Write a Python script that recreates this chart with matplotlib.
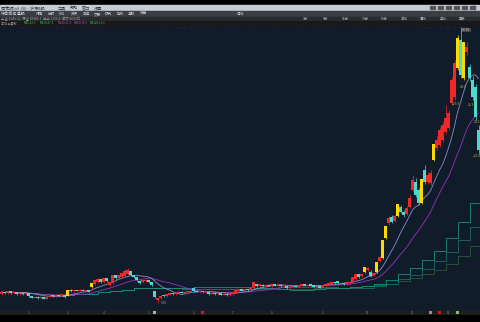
import numpy as np
import pandas as pd
import matplotlib
matplotlib.use('Agg')
import matplotlib.pyplot as plt
from matplotlib.patches import Rectangle

plt.rcParams['font.family'] = ['Noto Sans CJK SC', 'DejaVu Sans']

# daily candles (price units)
opens = [6.6, 6.8, 6.7, 6.9, 6.7, 6.8, 6.6, 6.75, 6.6, 6.7,
         6.4, 6.25, 6.35, 6.2, 6.3, 6.15, 6.35, 6.45, 6.4, 6.5,
         6.45, 6.55, 6.45, 7.0, 6.9, 7.0, 6.95, 7.05, 6.95, 7.0,
         7.3, 7.6, 7.8, 8.1, 7.8, 8.2, 7.5, 7.7, 8.5, 8.2,
         8.3, 8.4, 8.6, 8.9, 8.5, 8.3, 7.95, 7.8, 7.9, 8.0,
         7.8, 6.9, 6.0, 6.2, 6.5, 6.4, 6.55, 6.7, 6.6, 6.7,
         6.85, 6.75, 6.8, 6.85, 7.2, 6.95, 6.8, 6.9, 6.8, 6.85,
         6.65, 6.75, 6.6, 6.7, 6.55, 6.65, 6.5, 6.6, 6.75, 6.9,
         7.1, 6.95, 7.1, 7.0, 7.3, 7.6, 7.4, 7.55, 7.4, 7.55,
         7.4, 7.6, 7.45, 7.55, 7.4, 7.4, 7.2, 7.3, 7.45, 7.35,
         7.45, 7.6, 7.45, 7.6, 7.5, 7.35, 7.4, 7.25, 7.4, 7.55,
         7.6, 7.8, 7.9, 7.6, 7.75, 7.6, 7.7, 7.8, 8.1, 8.6,
         8.4, 8.8, 9.0, 8.8, 8.5, 8.8, 9.9, 10.2, 12.2, 13.7,
         14.3, 13.9, 14.4, 15.3, 14.8, 14.6, 15.3, 17.0, 17.8, 17.0,
         15.7, 19.0, 17.8, 17.7, 20.0, 21.2, 21.5, 22.0, 22.8, 23.2,
         25.7, 26.3, 29.2, 32.0, 28.2, 30.8, 29.3, 28.0, 27.3, 23.0]
closes = [6.8, 6.7, 6.9, 6.7, 6.8, 6.6, 6.75, 6.6, 6.7, 6.4,
          6.25, 6.35, 6.2, 6.3, 6.15, 6.35, 6.45, 6.4, 6.5, 6.45,
          6.6, 6.35, 7.0, 6.9, 7.0, 6.95, 7.05, 6.95, 7.0, 6.85,
          7.7, 8.0, 8.1, 7.8, 8.2, 7.9, 7.8, 8.5, 8.2, 8.5,
          8.7, 8.9, 9.0, 8.5, 8.3, 8.0, 7.7, 8.0, 8.05, 7.8,
          7.5, 6.3, 6.2, 6.4, 6.4, 6.6, 6.7, 6.6, 6.75, 6.85,
          6.75, 6.85, 6.9, 6.95, 6.9, 6.85, 6.9, 6.8, 6.9, 6.6,
          6.75, 6.6, 6.7, 6.55, 6.65, 6.5, 6.65, 6.8, 7.0, 7.1,
          6.95, 7.1, 7.0, 7.2, 7.8, 7.4, 7.6, 7.4, 7.55, 7.45,
          7.6, 7.45, 7.55, 7.4, 7.5, 7.2, 7.35, 7.45, 7.35, 7.5,
          7.6, 7.45, 7.55, 7.45, 7.35, 7.45, 7.25, 7.55, 7.65, 7.75,
          7.8, 7.7, 7.7, 7.75, 7.6, 7.8, 7.85, 8.3, 8.6, 8.3,
          8.6, 9.3, 9.2, 8.4, 8.7, 9.8, 10.3, 12.0, 13.4, 14.2,
          13.8, 14.4, 15.6, 14.8, 14.5, 15.2, 16.2, 18.0, 16.5, 15.7,
          18.1, 17.8, 18.5, 18.7, 21.6, 22.0, 23.0, 23.5, 24.2, 24.7,
          28.0, 29.7, 32.2, 28.5, 31.8, 31.3, 28.2, 26.3, 24.3, 21.0]
highs = [6.85, 6.85, 6.95, 6.95, 6.85, 6.85, 6.8, 6.8, 6.75, 6.75,
         6.45, 6.4, 6.4, 6.35, 6.35, 6.4, 6.5, 6.5, 6.55, 6.55,
         6.65, 6.6, 7.05, 7.1, 7.05, 7.05, 7.1, 7.1, 7.05, 7.05,
         7.75, 8.05, 8.2, 8.15, 8.25, 8.25, 7.85, 8.55, 8.55, 8.55,
         8.75, 9.1, 9.2, 8.95, 8.55, 8.35, 8.0, 8.05, 8.1, 8.05,
         7.85, 6.95, 6.25, 6.45, 6.55, 6.65, 6.75, 6.75, 6.8, 6.9,
         6.9, 6.9, 6.95, 7.0, 7.3, 7.0, 6.95, 6.95, 6.95, 6.9,
         6.8, 6.8, 6.75, 6.75, 6.7, 6.7, 6.7, 6.85, 7.05, 7.15,
         7.15, 7.15, 7.15, 7.25, 7.85, 7.65, 7.65, 7.6, 7.6, 7.6,
         7.65, 7.65, 7.6, 7.6, 7.55, 7.45, 7.4, 7.5, 7.5, 7.55,
         7.65, 7.65, 7.6, 7.65, 7.55, 7.5, 7.45, 7.6, 7.7, 7.8,
         7.85, 7.85, 7.95, 7.8, 7.8, 7.85, 7.9, 8.35, 8.65, 8.65,
         8.65, 9.35, 9.3, 9.0, 8.75, 9.85, 10.4, 12.05, 13.45, 14.4,
         14.5, 14.5, 15.65, 15.5, 15.0, 15.4, 16.6, 18.5, 18.2, 17.2,
         18.15, 19.5, 18.8, 19.0, 21.65, 22.4, 23.3, 23.8, 25.5, 25.0,
         28.3, 30.0, 32.5, 33.3, 31.85, 31.8, 29.6, 28.4, 27.6, 23.5]
lows = [6.55, 6.65, 6.65, 6.65, 6.65, 6.55, 6.55, 6.55, 6.55, 6.35,
        6.2, 6.2, 6.15, 6.15, 6.1, 6.1, 6.3, 6.35, 6.35, 6.4,
        6.4, 6.2, 6.4, 6.85, 6.85, 6.9, 6.9, 6.9, 6.9, 6.8,
        7.25, 7.55, 7.75, 7.75, 7.75, 7.85, 7.4, 7.65, 8.15, 8.15,
        8.25, 8.35, 8.55, 8.45, 8.25, 7.95, 7.65, 7.75, 7.85, 7.75,
        7.4, 6.25, 5.7, 6.15, 6.35, 6.35, 6.5, 6.55, 6.55, 6.65,
        6.7, 6.7, 6.75, 6.8, 6.85, 6.8, 6.75, 6.75, 6.75, 6.55,
        6.6, 6.55, 6.55, 6.5, 6.5, 6.45, 6.45, 6.55, 6.7, 6.85,
        6.9, 6.9, 6.95, 6.95, 7.25, 7.35, 7.35, 7.35, 7.35, 7.4,
        7.35, 7.4, 7.4, 7.35, 7.35, 7.15, 7.15, 7.25, 7.3, 7.3,
        7.4, 7.4, 7.4, 7.4, 7.3, 7.3, 7.2, 7.2, 7.35, 7.5,
        7.55, 7.65, 7.65, 7.55, 7.55, 7.55, 7.65, 7.75, 8.05, 8.25,
        8.35, 8.75, 8.95, 8.35, 8.45, 8.75, 9.85, 10.15, 12.1, 13.5,
        13.7, 13.8, 14.35, 14.7, 14.3, 14.5, 15.2, 16.8, 16.3, 15.5,
        15.6, 17.6, 17.6, 17.5, 19.9, 21.0, 21.3, 21.8, 22.6, 23.0,
        25.5, 26.0, 29.0, 28.2, 28.0, 30.5, 27.9, 26.0, 24.0, 20.6]
limit_up = [22, 30, 121, 125, 127, 128, 132, 140, 144, 152, 154]

event_days = [6, 7, 8, 18, 20, 27, 29, 33, 53, 58, 59, 60, 61, 63, 65, 67, 70,
              74, 78, 83, 92, 100, 104, 106, 111, 118, 120, 121, 126, 127, 128,
              129, 132, 139, 141, 142, 143, 146, 148, 149, 151, 152, 153, 154]
month_days = [9, 22, 34, 49, 64, 77, 90, 107, 122, 137, 149]
month_labels = ['2', '3', '4', '5', '6', '7', '8', '9', '10', '11', '12']
marker_days = [51, 67, 143, 146, 152]
marker_colors = ['#7fd07f', '#c02020', '#c08080', '#c02020', '#80c070']

note_pos = [(153.5, 29.9), (153.8, 27.3), (151.6, 25.6), (156.6, 25.5), (158.4, 23.8), (158.6, 20.4)]
note_text = ['+31.8', '28.0', '+25.5', '26.3', '24.3', '+21.0']

info_x = [1, 24, 40, 58, 74, 90]
info_text = ['日线 前复权', 'MA5:29.3', 'MA10:27.2', 'MA20:21.4', 'MA60:15.0', 'MA120:11.6']
info_color = ['#c9a0a0', '#40c040', '#40c040', '#c040c0', '#c040c0', '#40c040']

W, H = 480, 322
fig = plt.figure(figsize=(4.8, 3.22), dpi=100, facecolor='black')


def fx(x):
    return x / W


def fy(y):
    return 1 - y / H


def band(y0, y1, color, x0=0, x1=W):
    fig.patches.append(Rectangle((fx(x0), fy(y1)), (x1 - x0) / W, (y1 - y0) / H,
                                 transform=fig.transFigure, color=color, zorder=0))


# window chrome
band(5, 11, '#c4cbd3')
band(11, 17, '#3a3d42')
band(17, 21, '#2a2c30')
band(21, 26, '#17191d')

fig.text(fx(1), fy(8), '同花顺(v9.30) - 沪深A股', fontsize=3, color='#333', va='center')
for x, t in zip([58, 70, 82, 94], ['工具', '帮助', '窗口', '设置']):
    fig.text(fx(x), fy(8), t, fontsize=3, color='#333', va='center')
fig.text(fx(1), fy(14), '综合排名选股', fontsize=3, color='#ddd', va='center')
for k, t in enumerate(['行情', '分时', 'K线', '资讯', '自选', '交易', '研究', '模拟', '选股', '资金']):
    fig.text(fx(36 + k * 11.5), fy(14), t, fontsize=2.6, color='#cfcfcf', va='center')
fig.text(fx(240), fy(14), '日线', fontsize=2.6, color='#ddd', va='center', ha='center')
for k in range(6):
    fig.patches.append(Rectangle((fx(430 + k * 8), fy(9)), 5 / W, 3 / H,
                                 transform=fig.transFigure, color='#555', zorder=1))
fig.text(fx(1), fy(19), '上证 3245.12  深证 10986.3  创业 2156.8  成交 8632亿', fontsize=2.4, color='#aaa', va='center')
for k, t in enumerate(['1分', '5分', '15分', '30分', '60分', '日线', '周线', '月线', '更多']):
    fig.text(fx(303 + k * 19.5), fy(19), t, fontsize=2.4, color='#bbb', va='center')
for x, t, col in zip(info_x, info_text, info_color):
    fig.text(fx(x), fy(23.5), t, fontsize=2.2, color=col, va='center')

# chart
ax = fig.add_axes([0, fy(310), 1, 284 / H])
ax.set_facecolor('#111c2a')
for s in ax.spines.values():
    s.set_visible(False)
ax.set_xticks([])
ax.set_yticks([])

o = np.array(opens)
c = np.array(closes)
h = np.array(highs)
l = np.array(lows)
idx = np.arange(len(c))
cols = np.where(c >= o, '#f02828', '#4fd8cf').astype(object)
cols[limit_up] = '#ffd900'

s = pd.Series(closes)
for w, col in [(100, '#2c5a3d'), (70, '#1f6c5f'), (50, '#1b8e80')]:
    m = s.rolling(w, min_periods=1).mean()
    held = m.where(idx % 4 == 0).ffill()
    ax.plot(idx, held, color=col, lw=0.6, drawstyle='steps-post', zorder=1)
ax.plot(idx, s.rolling(20, min_periods=1).mean(), color='#9b30c0', lw=0.6, zorder=2)
ax.plot(idx, s.rolling(10, min_periods=1).mean(), color='#8a8cc8', lw=0.6, zorder=2)

ax.vlines(idx, l, h, colors=list(cols), lw=0.5, zorder=3)
ax.bar(idx, np.maximum(np.abs(c - o), 0.07), bottom=np.minimum(o, c), width=0.7,
       color=list(cols), lw=0, zorder=4)

ax.plot(event_days, [1.0] * len(event_days), ls='none', marker='|', ms=2, mew=0.6,
        color='#a020c0', transform=ax.get_xaxis_transform(), clip_on=False)

hi = int(np.argmax(h))
ax.text(hi + 0.5, h[hi] - 0.1, f'{h[hi]:.2f}', fontsize=2.4, color='#ddd', va='top',
        bbox=dict(boxstyle='square,pad=0.1', fc='#444', ec='none'))
lo = int(np.argmin(l))
ax.text(lo + 1, l[lo], f'{l[lo]:.2f}', fontsize=2.4, color='#aaa', va='center')
for (xi, yi), t in zip(note_pos, note_text):
    ax.text(xi, yi, t, fontsize=2.4, color='#b5b54a', va='center', ha='center')

ax.text(0.3, 0.87, '均线(MA)', fontsize=2.6, color='#a8a070', transform=ax.get_yaxis_transform())

ax.set_xlim(-0.5, len(c) - 0.5)
ax.set_ylim(5.0, 33.4)

# date strip under the chart
dax = fig.add_axes([0, fy(315), 1, 5 / H], sharex=ax)
dax.set_facecolor('#1c1e22')
for sp in dax.spines.values():
    sp.set_visible(False)
dax.set_yticks([])
dax.tick_params(axis='x', length=0, labelbottom=False)
dax.set_ylim(0, 1)
for d, t in zip(month_days, month_labels):
    dax.text(d, 0.5, t, fontsize=2.2, color='#888', ha='center', va='center')
dax.scatter(marker_days, [0.5] * len(marker_days), marker='s', s=4, lw=0,
            color=marker_colors, zorder=5)

fig.savefig('out.png', dpi=100, facecolor='black')
